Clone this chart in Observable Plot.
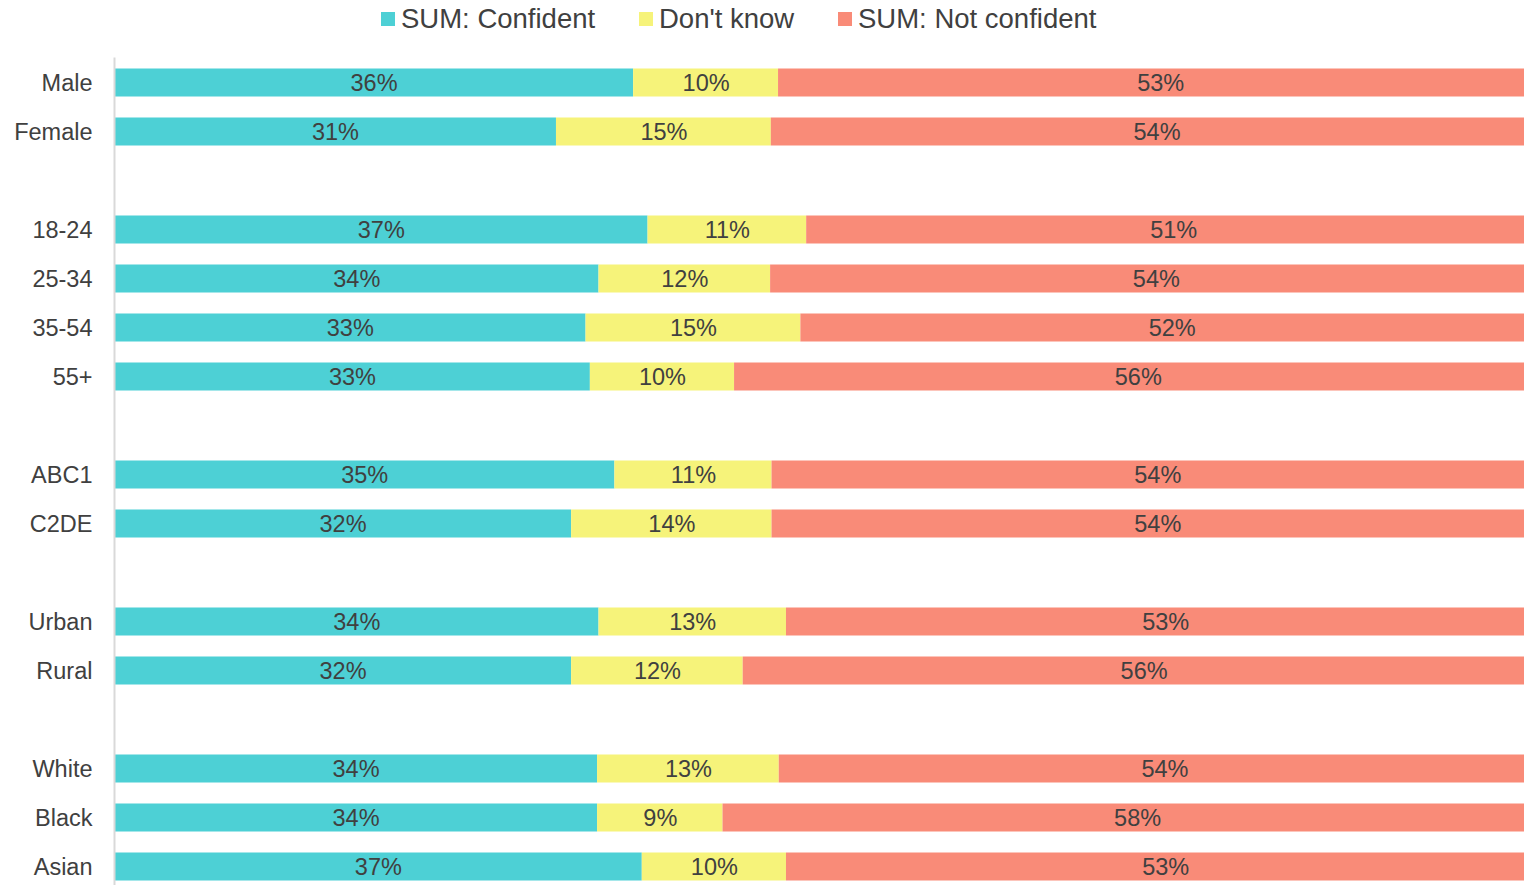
<!DOCTYPE html>
<html>
<head>
<meta charset="utf-8">
<script src="https://cdn.jsdelivr.net/npm/d3@7"></script>
<script src="https://cdn.jsdelivr.net/npm/@observablehq/plot@0.6"></script>
<style>
  html, body { margin: 0; padding: 0; background: #fff; overflow: hidden; width: 1524px; height: 885px; }
  body { font-family: "Liberation Sans", Arial, sans-serif; color: #404040; }
  #legend { position: relative; height: 40px; }
  #chart { width: 1556px; }
  #chart svg { max-width: none !important; }
  .item { position: absolute; top: 0; display: flex; align-items: center; height: 37px; font-size: 27.5px; color: #404040; white-space: nowrap; }
  .sw { width: 14px; height: 14px; margin-right: 6px; }
</style>
</head>
<body>
<div id="legend"></div>
<div id="chart"></div>
<script>
const categories = ["Male", "Female", " ", "18-24", "25-34", "35-54", "55+", "  ", "ABC1", "C2DE", "   ", "Urban", "Rural", "    ", "White", "Black", "Asian"];
const groups = ["Male", "Female", "18-24", "25-34", "35-54", "55+", "ABC1", "C2DE", "Urban", "Rural", "White", "Black", "Asian"];
const seriesNames = ["SUM: Confident", "Don't know", "SUM: Not confident"];
const seriesColors = ["#4dd0d5", "#f6f37a", "#f98b78"];
const confident    = [36.0, 30.65, 37.0, 33.6, 32.7, 33.0, 34.7, 31.7, 33.6, 31.7, 33.5, 33.5, 36.6];
const dontKnow     = [10.05, 14.9, 11.0, 11.9, 14.9, 10.0, 10.9, 13.9, 13.0, 11.9, 12.6, 8.7, 10.0];
const notConfident = [53.0, 53.5, 50.9, 53.5, 51.5, 56.0, 53.5, 53.5, 52.6, 55.6, 53.5, 57.5, 52.6];

const seriesValues = [confident, dontKnow, notConfident];
const data = [];
seriesNames.forEach((s, si) => {
  groups.forEach((g, gi) => data.push({group: g, series: s, value: seriesValues[si][gi]}));
});

// legend
const legendX = [381, 639, 838];
const legend = document.getElementById("legend");
seriesNames.forEach((s, i) => {
  const it = document.createElement("div");
  it.className = "item";
  it.style.left = legendX[i] + "px";
  it.innerHTML = `<span class="sw" style="background:${seriesColors[i]}"></span><span>${s}</span>`;
  legend.appendChild(it);
});

const chart = Plot.plot({
  width: 1556,
  height: 852,
  marginLeft: 114,
  marginRight: 0,
  marginTop: 17.5,
  marginBottom: 0,
  style: {fontFamily: "'Liberation Sans', Arial, sans-serif", fontSize: "23.5px", color: "#404040", overflow: "visible", maxWidth: "none"},
  x: {domain: [0, 100], axis: null},
  y: {domain: categories, padding: 0, label: null},
  color: {domain: seriesNames, range: seriesColors},
  marks: [
    Plot.barX(data, Plot.stackX({x: "value", y: "group", fill: "series", z: "series", order: null, insetTop: 10.5, insetBottom: 10.5})),
    Plot.text(data, Plot.stackX({x: "value", y: "group", z: "series", order: null, text: d => Math.round(d.value) + "%", fill: "#404040", fontSize: 23.5})),
    Plot.ruleX([0], {stroke: "#d9d9d9", strokeWidth: 2}),
    Plot.axisY({tickSize: 0, tickPadding: 22, label: null, fontSize: 23.5})
  ]
});
document.getElementById("chart").appendChild(chart);
</script>
</body>
</html>
